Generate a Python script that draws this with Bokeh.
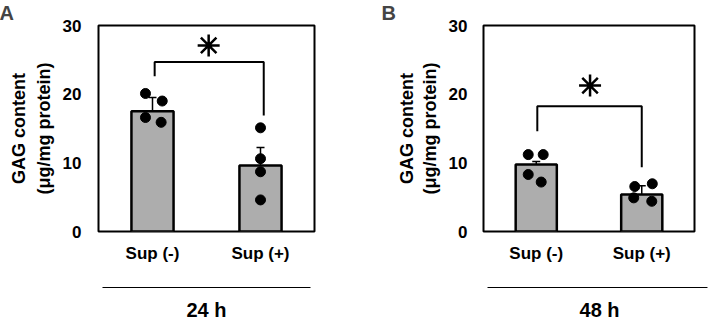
from bokeh.plotting import figure
from bokeh.models import (ColumnDataSource, FixedTicker, LinearAxis, Whisker,
                          Range1d, TeeHead)
from bokeh.layouts import row, column
from bokeh.embed import file_html
from bokeh.resources import INLINE
from bokeh.core.properties import value

# ---------------- data ----------------
categories = ["Sup (-)", "Sup (+)"]
y_ticks = [0, 10, 20, 30]
y_label_1 = "GAG content"
y_label_2 = "(μg/mg protein)"
time_labels = ["24 h", "48 h"]

mean_24h = [17.5, 9.6]
sem_24h = [2.0, 2.65]
pts_24h_neg = [20.1, 19.0, 16.6, 15.9]
pts_24h_pos = [15.1, 10.6, 8.7, 4.6]

mean_48h = [9.75, 5.4]
sem_48h = [0.45, 1.25]
pts_48h_neg = [11.2, 11.2, 8.3, 7.2]
pts_48h_pos = [6.55, 6.95, 4.9, 4.4]

FONT = "Liberation Sans"
BAR_FILL = "#adadad"
PANEL_W = 354
CHART_H = 272
FOOT_H = 49


def bold_axis_label(ax, text, standoff, size="18px"):
    ax.axis_label = text
    ax.axis_label_standoff = standoff
    ax.axis_label_text_font = FONT
    ax.axis_label_text_font_style = "bold"
    ax.axis_label_text_font_size = size
    ax.axis_label_text_color = "black"


def make_panel(letter, means, sems, pts, jitter, bracket, star,
               borders, letter_offset, ylab):
    bl, br, bt, bb = borders
    p = figure(width=PANEL_W, height=CHART_H, x_range=Range1d(0, 2), y_range=Range1d(0, 30),
               output_backend="svg", toolbar_location=None,
               min_border_left=bl, min_border_right=br,
               min_border_top=bt, min_border_bottom=bb)
    p.xgrid.visible = False
    p.ygrid.visible = False
    p.outline_line_color = "black"
    p.outline_line_width = 2
    p.background_fill_color = "white"
    p.border_fill_color = "white"

    # panel letter
    p.title.text = letter
    p.title.text_font = FONT
    p.title.text_font_style = "bold"
    p.title.text_font_size = "20px"
    p.title.align = "left"
    p.title.offset = letter_offset
    p.title.standoff = 0
    p.title.text_line_height = 1.0
    p.title.vertical_align = "top"

    xc = [i + 0.5 for i in range(len(categories))]

    # bars
    p.vbar(x=xc, top=means, bottom=0, width=0.39, fill_color=BAR_FILL,
           line_color="black", line_width=2.5)

    # error bars
    src = ColumnDataSource(dict(x=xc,
                                lower=[m - s for m, s in zip(means, sems)],
                                upper=[m + s for m, s in zip(means, sems)]))
    w = Whisker(base="x", lower="lower", upper="upper", source=src,
                line_color="black", line_width=1.5,
                upper_head=TeeHead(size=8, line_width=1.5, line_color="black"),
                lower_head=TeeHead(size=8, line_width=1.5, line_color="black"))
    p.add_layout(w)

    # individual points
    px, py = [], []
    for i, vals in enumerate(pts):
        for j, v in enumerate(vals):
            px.append(xc[i] + jitter[i][j])
            py.append(v)
    p.scatter(px, py, size=10, color="black")

    # significance bracket
    l, r, lb, top, rb = bracket
    p.line([l, l, r, r], [lb, top, top, rb], line_width=2, line_color="black")
    p.scatter([star[0]], [star[1]], marker="asterisk", size=22,
              line_color="black", line_width=2.5)

    # y axis with ticks
    ya = p.yaxis[0]
    ya.ticker = FixedTicker(ticks=y_ticks)
    ya.axis_line_color = None
    ya.major_tick_line_color = None
    ya.minor_tick_line_color = None
    ya.major_tick_out = 0
    ya.major_tick_in = 0
    ya.major_label_standoff = ylab[0]
    ya.major_label_text_font = FONT
    ya.major_label_text_font_style = "bold"
    ya.major_label_text_font_size = "17px"
    ya.major_label_text_color = "black"

    # two stacked y-axis title lines (inner: units, outer: quantity)
    for text, standoff in ((y_label_2, ylab[1]), (y_label_1, ylab[2])):
        ax = LinearAxis(ticker=FixedTicker(ticks=[]),
                        axis_line_color=None, major_tick_out=0, major_tick_in=0,
                        minor_tick_out=0, minor_tick_in=0,
                        major_label_text_font_size="0px", major_label_standoff=0)
        bold_axis_label(ax, text, standoff)
        p.add_layout(ax, "left")

    # x axis (category labels)
    xa = p.xaxis[0]
    xa.ticker = FixedTicker(ticks=xc)
    xa.major_label_overrides = {x: c for x, c in zip(xc, categories)}
    xa.axis_line_color = None
    xa.major_tick_line_color = None
    xa.minor_tick_line_color = None
    xa.major_tick_out = 0
    xa.major_tick_in = 0
    xa.major_label_standoff = 12
    xa.major_label_text_font = FONT
    xa.major_label_text_font_style = "bold"
    xa.major_label_text_font_size = "17px"
    xa.major_label_text_color = "black"
    return p


bordersA = (98, 40, 24, 38)
bordersB = (129, 14, 25, 41)

pA = make_panel("A", mean_24h, sem_24h, [pts_24h_neg, pts_24h_pos],
                [[-0.065, 0.09, -0.065, 0.08], [0, 0, 0, 0]],
                (0.52, 1.53, 22.6, 24.7, 16.9), (1.02, 27.1),
                bordersA, -99, (17, 6, 2))

pB = make_panel("B", mean_48h, sem_48h, [pts_48h_neg, pts_48h_pos],
                [[-0.076, 0.066, -0.076, 0.047], [-0.066, 0.10, -0.076, 0.095]],
                (0.51, 1.50, 14.6, 18.25, 9.35), (1.01, 21.25),
                bordersB, -102, (16, 6, 0))

# ---------------- footer: group lines + time labels ----------------
# positions expressed in each panel's category units, mapped to footer pixels
def to_px(panel_index, borders, u):
    bl, br, _, _ = borders
    ppu = (PANEL_W - bl - br) / 2.0
    return panel_index * PANEL_W + bl + u * ppu

foot_spec = [(bordersA, 0.037, 1.963, 1.0), (bordersB, 0.038, 2.123, 1.10)]
seg_x0, seg_x1, txt_x = [], [], []
for k, (b, u0, u1, ut) in enumerate(foot_spec):
    seg_x0.append(to_px(k, b, u0))
    seg_x1.append(to_px(k, b, u1))
    txt_x.append(to_px(k, b, ut))

f = figure(width=2 * PANEL_W, height=FOOT_H,
           x_range=Range1d(0, 2 * PANEL_W), y_range=Range1d(FOOT_H, 0),
           output_backend="svg", toolbar_location=None,
           x_axis_type=None, y_axis_type=None,
           min_border_left=0, min_border_right=0, min_border_top=0, min_border_bottom=0)
f.xgrid.visible = False
f.ygrid.visible = False
f.outline_line_color = None
f.border_fill_color = "white"
f.segment(x0=seg_x0, y0=[15, 15], x1=seg_x1, y1=[15, 15], line_color="black", line_width=1.2)
f.text(x=txt_x, y=[37.5, 37.5], text=time_labels, text_font=value(FONT), text_font_style="bold",
       text_font_size=value("20px"), text_align="center", text_baseline="middle",
       text_color="black")

layout = column(row(pA, pB, spacing=0), f, spacing=0)
open("out.html", "w").write(file_html(layout, INLINE))
